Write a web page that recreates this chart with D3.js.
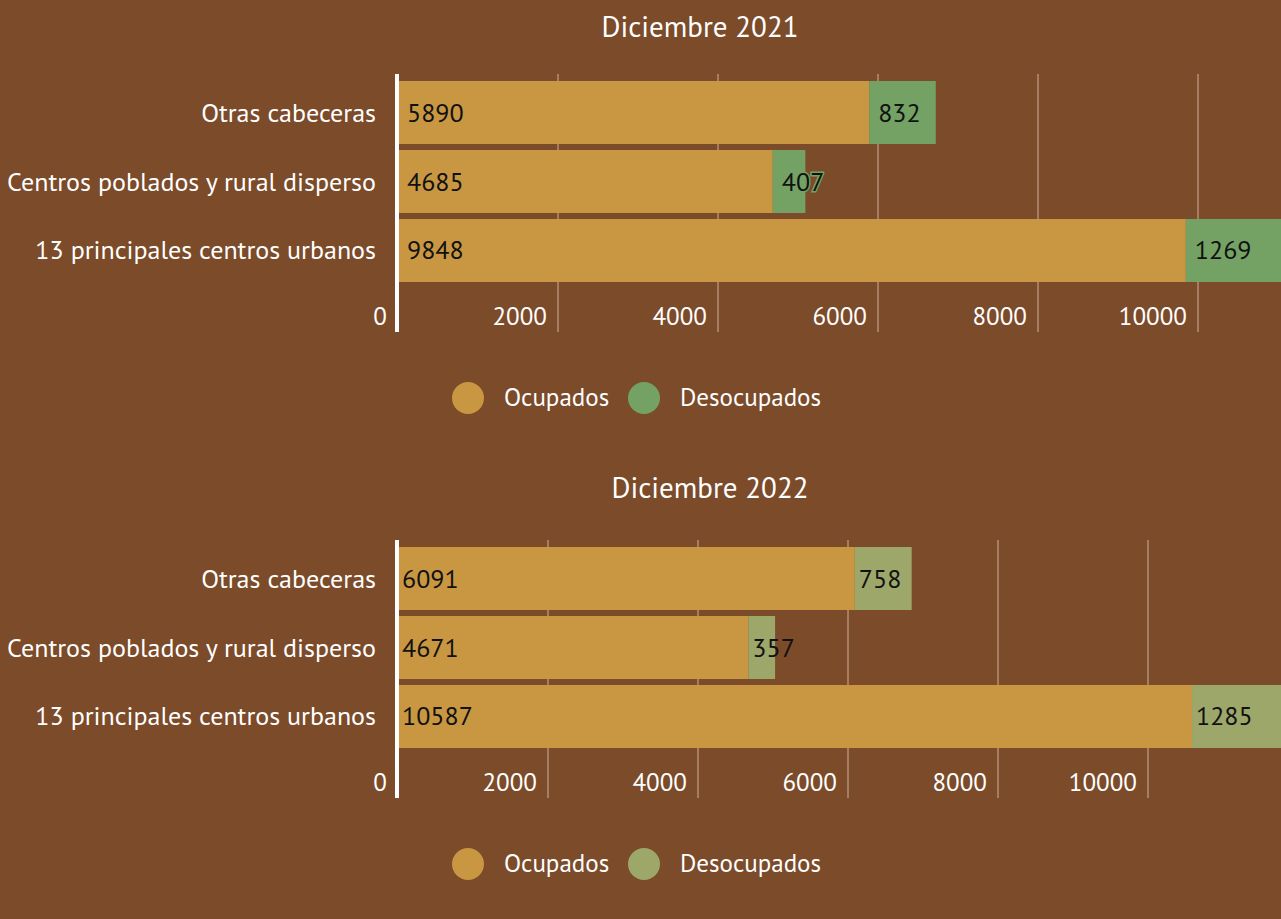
<!DOCTYPE html>
<html>
<head>
<meta charset="utf-8">
<script src="https://cdn.jsdelivr.net/npm/d3@7"></script>
<style>
  html, body { margin: 0; padding: 0; background: #7b4b2a; overflow: hidden; }
  svg { display: block; }
  text { font-family: "PT Sans", Lato, "Open Sans", sans-serif; }
</style>
</head>
<body>
<svg id="chart" width="1281" height="919"></svg>
<script>
const categories = ["Otras cabeceras", "Centros poblados y rural disperso", "13 principales centros urbanos"]
const ocupados2021 = [5890, 4685, 9848]
const desocupados2021 = [832, 407, 1269]
const ocupados2022 = [6091, 4671, 10587]
const desocupados2022 = [758, 357, 1285]
const tickValues = [0, 2000, 4000, 6000, 8000, 10000]
const seriesNames = ["Ocupados", "Desocupados"]

const svg = d3.select("#chart")

function drawPanel(top, title, titleX, titleY, maxX, ocupados, desocupados, desColor, labelPad, halo) {
    const g = svg.append("g").attr("transform", `translate(0,${top})`)
    const colors = ["#c99742", desColor]

    const x = d3.scaleLinear().domain([0, maxX]).range([398, 1358])
    const y = d3.scaleBand().domain(categories).range([75, 288]).paddingInner(0.087).paddingOuter(0.087)

    g.append("text")
        .attr("x", titleX)
        .attr("y", titleY)
        .attr("text-anchor", "middle")
        .attr("fill", "#fff")
        .attr("font-size", 29)
        .text(title)

    // grid lines
    g.selectAll(".grid")
        .data(tickValues.filter(d => d > 0))
        .enter()
        .append("line")
        .attr("x1", d => x(d))
        .attr("x2", d => x(d))
        .attr("y1", 74)
        .attr("y2", 332)
        .attr("stroke", "#a57d62")
        .attr("stroke-width", 2)

    // tick labels
    g.selectAll(".tick")
        .data(tickValues)
        .enter()
        .append("text")
        .attr("x", d => x(d) - 11)
        .attr("y", 325)
        .attr("text-anchor", "end")
        .attr("fill", "#fff")
        .attr("font-size", 25)
        .text(d => d)

    const rows = categories.map((c, i) => ({ cat: c, o: ocupados[i], d: desocupados[i] }))
    const stacked = d3.stack().keys(["o", "d"])(rows)

    stacked.forEach((layer, k) => {
        g.selectAll(".bar" + k)
            .data(layer)
            .enter()
            .append("rect")
            .attr("x", d => x(d[0]))
            .attr("y", d => y(d.data.cat))
            .attr("width", d => x(d[1]) - x(d[0]))
            .attr("height", y.bandwidth())
            .attr("fill", colors[k])
    })

    stacked.forEach((layer, k) => {
        const t = g.selectAll(".lbl" + k)
            .data(layer)
            .enter()
            .append("text")
            .attr("x", d => x(d[0]) + labelPad)
            .attr("y", d => y(d.data.cat) + y.bandwidth() / 2 + 9)
            .attr("fill", "#111")
            .attr("font-size", 26)
            .text(d => d[1] - d[0])
        if (k === 1 && halo) {
            t.attr("stroke", desColor)
                .attr("stroke-width", 3)
                .attr("paint-order", "stroke")
        }
    })

    // category labels
    g.selectAll(".cat")
        .data(categories)
        .enter()
        .append("text")
        .attr("x", 376)
        .attr("y", d => y(d) + y.bandwidth() / 2 + 9)
        .attr("text-anchor", "end")
        .attr("fill", "#fff")
        .attr("font-size", 26)
        .text(d => d)

    // axis line
    g.append("line")
        .attr("x1", 397)
        .attr("x2", 397)
        .attr("y1", 74)
        .attr("y2", 332)
        .attr("stroke", "#fff")
        .attr("stroke-width", 4)

    // legend
    const lx = [468, 644]
    seriesNames.forEach((name, k) => {
        g.append("circle")
            .attr("cx", lx[k])
            .attr("cy", 398)
            .attr("r", 16)
            .attr("fill", colors[k])
        g.append("text")
            .attr("x", lx[k] + 36)
            .attr("y", 406)
            .attr("fill", "#fff")
            .attr("font-size", 25)
            .text(name)
    })
}

drawPanel(0, "Diciembre 2021", 700, 37, 12000, ocupados2021, desocupados2021, "#74a265", 9, true)
drawPanel(466, "Diciembre 2022", 710, 32, 12800, ocupados2022, desocupados2022, "#9ea76a", 4, false)
</script>
</body>
</html>
